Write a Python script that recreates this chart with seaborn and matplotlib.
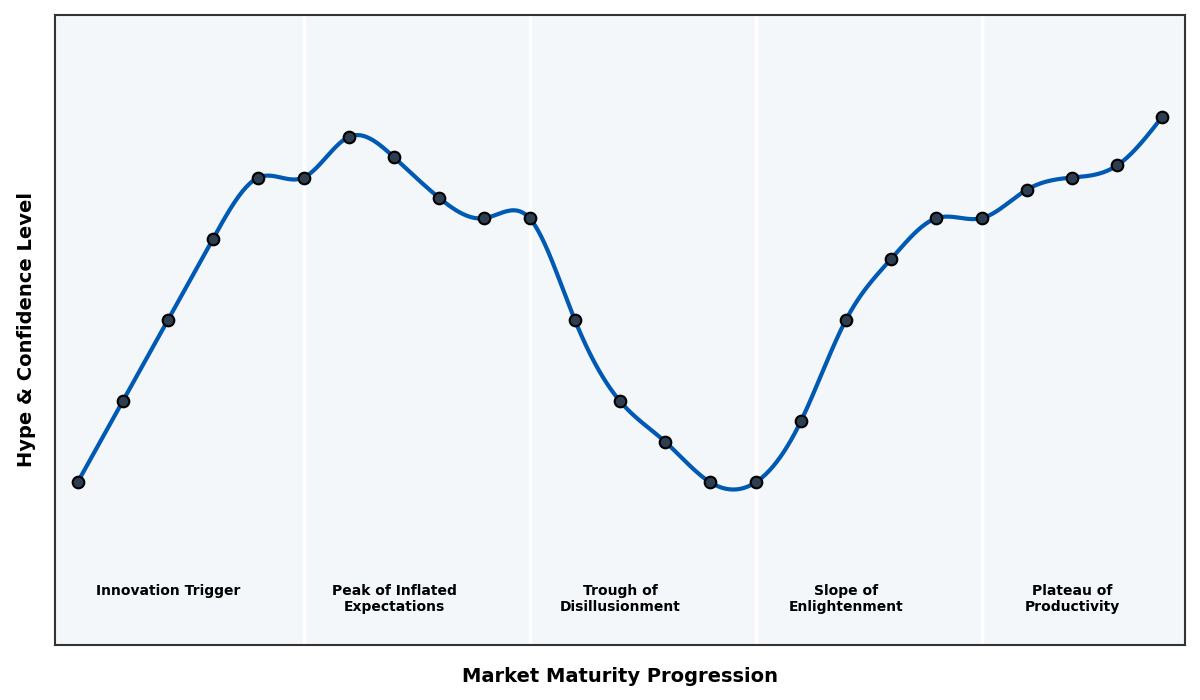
import numpy as np
import pandas as pd
import matplotlib
matplotlib.use('Agg')
import matplotlib.pyplot as plt
import seaborn as sns

# Hype cycle data points (25 steps, 5 per phase)
steps = list(range(25))
hype = [10, 30, 50, 70, 85, 85, 95, 90, 80, 75,
        75, 50, 30, 20, 10, 10, 25, 50, 65, 75,
        75, 82, 85, 88, 100]
phase_names = ['Innovation Trigger', 'Peak of Inflated\nExpectations',
               'Trough of\nDisillusionment', 'Slope of\nEnlightenment',
               'Plateau of\nProductivity']
phase_centers = [2, 7, 12, 17, 22]
phase_bounds = [5, 10, 15, 20]


def natural_spline(x, y, xs):
    # natural cubic spline, numpy only
    x = np.asarray(x, float)
    y = np.asarray(y, float)
    n = len(x)
    h = np.diff(x)
    A = np.zeros((n, n))
    b = np.zeros(n)
    A[0, 0] = 1
    A[-1, -1] = 1
    for i in range(1, n - 1):
        A[i, i - 1] = h[i - 1]
        A[i, i] = 2 * (h[i - 1] + h[i])
        A[i, i + 1] = h[i]
        b[i] = 3 * ((y[i + 1] - y[i]) / h[i] - (y[i] - y[i - 1]) / h[i - 1])
    c = np.linalg.solve(A, b)
    out = np.empty_like(xs)
    for k, xv in enumerate(xs):
        i = min(np.searchsorted(x, xv, side='right') - 1, n - 2)
        i = max(i, 0)
        dx = xv - x[i]
        bb = (y[i + 1] - y[i]) / h[i] - h[i] * (2 * c[i] + c[i + 1]) / 3
        d = (c[i + 1] - c[i]) / (3 * h[i])
        out[k] = y[i] + bb * dx + c[i] * dx ** 2 + d * dx ** 3
    return out


df = pd.DataFrame({'step': steps, 'hype': hype})
xs = np.linspace(steps[0], steps[-1], 600)
smooth = pd.DataFrame({'step': xs, 'hype': natural_spline(steps, hype, xs)})

sns.set_theme(style='white')
plt.rcParams['font.family'] = ['DejaVu Sans']

fig, ax = plt.subplots(figsize=(12, 7), dpi=100)
fig.subplots_adjust(left=0.0458, right=0.9875, top=0.9786, bottom=0.0786)
ax.set_facecolor('#f4f7fa')

for xb in phase_bounds:
    ax.axvline(xb, color='white', linewidth=2.5, zorder=1)

sns.lineplot(data=smooth, x='step', y='hype', ax=ax, color='#0059b3',
             linewidth=3, zorder=3)
sns.scatterplot(data=df, x='step', y='hype', ax=ax, color='#2c3e50',
                edgecolor='black', linewidth=1.5, s=70, zorder=4)

for xc, name in zip(phase_centers, phase_names):
    ax.text(xc, -15, name, ha='center', va='top', fontsize=10,
            fontweight='bold', color='black')

ax.set_xlim(-0.5, 24.5)
ax.set_ylim(-30, 125)
ax.set_xticks([])
ax.set_yticks([])
ax.set_xlabel('Market Maturity Progression', fontsize=14, fontweight='bold',
              labelpad=16, color='black')
ax.set_ylabel('Hype & Confidence Level', fontsize=14, fontweight='bold',
              labelpad=14, color='black')
for sp in ax.spines.values():
    sp.set_visible(True)
    sp.set_color('#333333')
    sp.set_linewidth(1.5)

plt.savefig('out.png', dpi=100)
